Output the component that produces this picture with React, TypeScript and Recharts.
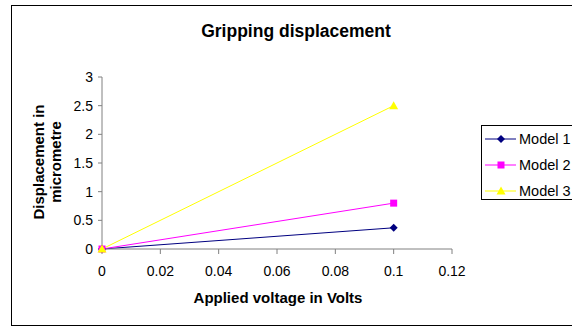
import { LineChart, Line, XAxis, YAxis, Legend } from 'recharts';

const voltages = [0, 0.1];
const model1 = [0, 0.37];
const model2 = [0, 0.8];
const model3 = [0, 2.5];
const xTicks = [0, 0.02, 0.04, 0.06, 0.08, 0.1, 0.12];
const yTicks = [0, 0.5, 1, 1.5, 2, 2.5, 3];

const series = [
  { key: 'm1', name: 'Model 1', color: '#000080', shape: 'diamond' },
  { key: 'm2', name: 'Model 2', color: '#FF00FF', shape: 'square' },
  { key: 'm3', name: 'Model 3', color: '#FFFF00', shape: 'triangle' },
];

const data = voltages.map((v, i) => ({ v, m1: model1[i], m2: model2[i], m3: model3[i] }));

const FONT = '"Liberation Sans", Arial, sans-serif';

function Marker({ cx, cy, shape, color }: { cx: number; cy: number; shape: string; color: string }) {
  if (shape === 'diamond') {
    return <polygon points={`${cx},${cy - 4} ${cx + 4},${cy} ${cx},${cy + 4} ${cx - 4},${cy}`} fill={color} />;
  }
  if (shape === 'square') {
    return <rect x={cx - 3.5} y={cy - 3.5} width={7} height={7} fill={color} />;
  }
  return <polygon points={`${cx},${cy - 4.5} ${cx + 4.5},${cy + 3.5} ${cx - 4.5},${cy + 3.5}`} fill={color} />;
}

function makeDot(shape: string, color: string) {
  return (props: any) => {
    const { cx, cy, index } = props;
    if (cx == null || cy == null) return <g key={index} />;
    return <Marker key={index} cx={cx} cy={cy} shape={shape} color={color} />;
  };
}

function LegendBox() {
  return (
    <div
      style={{
        border: '1px solid #000',
        background: '#fff',
        width: 130,
        height: 75,
        boxSizing: 'border-box',
        fontFamily: FONT,
        fontSize: 14.5,
        lineHeight: '16px',
      }}
    >
      {series.map((s) => (
        <div key={s.key} style={{ display: 'flex', alignItems: 'center', height: 26 }}>
          <svg width={37} height={12} style={{ flex: 'none' }}>
            <line x1={3} y1={6} x2={34} y2={6} stroke={s.color} strokeWidth={1} />
            <Marker cx={19} cy={6} shape={s.shape} color={s.color} />
          </svg>
          <span style={{ color: '#000', whiteSpace: 'nowrap' }}>{s.name}</span>
        </div>
      ))}
    </div>
  );
}

function YLabel(props: any) {
  const vb = props.viewBox;
  const cy = vb.y + vb.height / 2 - 1;
  const style = { fontFamily: FONT, fontSize: 15, fontWeight: 'bold' as const, fill: '#000' };
  return (
    <g>
      <text x={44} y={cy} textAnchor="middle" transform={`rotate(-90, 44, ${cy})`} style={style}>
        Displacement in
      </text>
      <text x={61} y={cy} textAnchor="middle" transform={`rotate(-90, 61, ${cy})`} style={style}>
        micrometre
      </text>
    </g>
  );
}

function XLabel(props: any) {
  const vb = props.viewBox;
  return (
    <text
      x={vb.x + vb.width / 2 + 1}
      y={vb.y + 54}
      textAnchor="middle"
      style={{ fontFamily: FONT, fontSize: 15, fontWeight: 'bold', fill: '#000' }}
    >
      Applied voltage in Volts
    </text>
  );
}

export default function App() {
  return (
    <div
      style={{
        position: 'fixed',
        left: 0,
        top: 0,
        width: 572,
        height: 326,
        overflow: 'hidden',
        background: '#fff',
      }}
    >
      <div
        style={{
          position: 'absolute',
          left: 11,
          top: 5,
          width: 620,
          height: 319,
          border: '1px solid #000',
        }}
      />
      <div
        style={{
          position: 'absolute',
          left: 0,
          width: 592,
          top: 21,
          textAlign: 'center',
          fontFamily: FONT,
          fontSize: 17.5,
          fontWeight: 'bold',
          color: '#000',
        }}
      >
        Gripping displacement
      </div>
      <div style={{ position: 'absolute', left: 0, top: 0 }}>
        <LineChart width={572} height={326} data={data} margin={{ top: 77, right: 120, bottom: 17, left: 12 }}>
          <XAxis
            dataKey="v"
            type="number"
            domain={[0, 0.12]}
            ticks={xTicks}
            tickFormatter={(v: number) => String(v)}
            height={60}
            stroke="#808080"
            tickSize={5}
            tickMargin={12}
            tick={{ fill: '#000', fontSize: 14, fontFamily: FONT }}
            label={{ content: XLabel }}
          />
          <YAxis
            type="number"
            domain={[0, 3]}
            ticks={yTicks}
            width={90}
            stroke="#808080"
            tickSize={4}
            tickMargin={5}
            tick={{ fill: '#000', fontSize: 14, fontFamily: FONT }}
            label={{ content: YLabel }}
          />
          <Legend
            layout="vertical"
            align="center"
            verticalAlign="middle"
            content={() => <LegendBox />}
            wrapperStyle={{ left: 481, top: 125, width: 130, height: 75 }}
          />
          {series.map((s) => (
            <Line
              key={s.key}
              dataKey={s.key}
              name={s.name}
              stroke={s.color}
              strokeWidth={1}
              dot={makeDot(s.shape, s.color)}
              activeDot={false}
              isAnimationActive={false}
            />
          ))}
        </LineChart>
      </div>
    </div>
  );
}
